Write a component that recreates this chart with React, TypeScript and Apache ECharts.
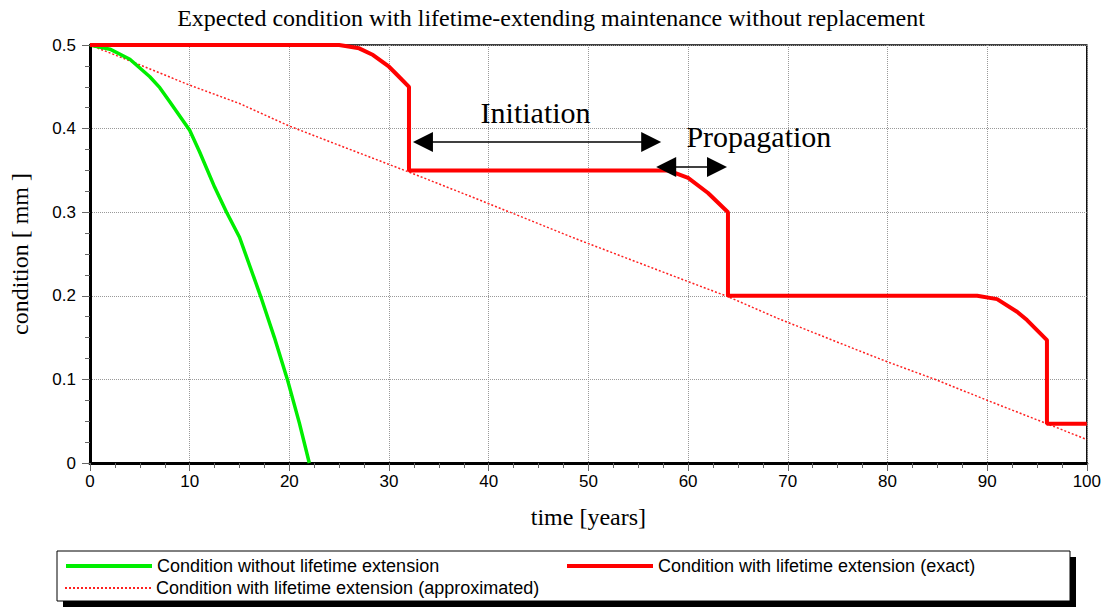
import React, { useEffect, useRef } from "react";
import * as echarts from "echarts";

const titleText = "Expected condition with lifetime-extending maintenance without replacement";
const xName = "time [years]";
const yName = "condition [ mm ]";
const seriesNames = [
  "Condition without lifetime extension",
  "Condition with lifetime extension (exact)",
  "Condition with lifetime extension (approximated)",
];

// Condition without lifetime extension
const greenPts: [number, number][] = [
  [0, 0.5], [2, 0.495], [4, 0.483], [6, 0.462], [7, 0.449], [8, 0.432],
  [10, 0.398], [11, 0.372], [12.5, 0.33], [13.7, 0.3], [15, 0.27],
  [17.1, 0.2], [18.5, 0.15], [19.8, 0.1], [21, 0.048], [22, 0],
];

// Condition with lifetime extension (exact)
const exactPts: [number, number][] = [
  [0, 0.5], [25, 0.5], [27, 0.496], [28.4, 0.488], [30, 0.474], [31, 0.462],
  [32, 0.45], [32, 0.35], [58, 0.35], [60, 0.341], [62, 0.323], [64, 0.3],
  [64, 0.2], [89, 0.2], [91, 0.196], [93, 0.181], [94, 0.171], [95, 0.159],
  [96, 0.147], [96, 0.047], [100, 0.047],
];

// Condition with lifetime extension (approximated)
const approxPts: [number, number][] = [
  [0, 0.5], [4, 0.481], [10, 0.452], [15, 0.43], [20, 0.403], [25, 0.38],
  [32, 0.348], [39, 0.315], [49, 0.267], [60, 0.217], [64, 0.199],
  [69, 0.173], [77, 0.135], [80, 0.121], [85, 0.099], [90, 0.075],
  [96, 0.047], [100, 0.028],
];

// Annotations (data coordinates)
const initiationArrow: [number, number][] = [[33.4, 0.384], [56.3, 0.384]];
const propagationArrow: [number, number][] = [[57.8, 0.354], [62.9, 0.354]];
const initiationLabel: [number, number] = [44.7, 0.419];
const propagationLabel: [number, number] = [67.1, 0.39];

const SERIF = "'Liberation Serif', 'Times New Roman', serif";
const SANS = "'Liberation Sans', Arial, sans-serif";

export default function App() {
  const ref = useRef<HTMLDivElement>(null);
  useEffect(() => {
    document.body.style.margin = "0";
    if (!ref.current) return;
    const chart = echarts.init(ref.current, undefined, { renderer: "svg" });
    const legendCommon = {
      orient: "horizontal" as const,
      padding: 0,
      itemWidth: 86,
      itemHeight: 14,
      itemStyle: { opacity: 0 },
      textStyle: { fontFamily: SANS, fontSize: 18, color: "#000" },
      selectedMode: false,
    };
    chart.setOption({
      animation: false,
      backgroundColor: "#fff",
      title: {
        text: titleText,
        left: 546,
        top: 1,
        textAlign: "center",
        textStyle: { fontFamily: SERIF, fontSize: 24, fontWeight: "normal", color: "#000" },
      },
      grid: {
        left: 88,
        right: 15,
        top: 45,
        bottom: 144,
        show: true,
        borderColor: "#000",
        borderWidth: 1.5,
        backgroundColor: "transparent",
      },
      xAxis: {
        type: "value",
        min: 0,
        max: 100,
        interval: 10,
        name: xName,
        nameLocation: "middle",
        nameGap: 42,
        nameTextStyle: { fontFamily: SERIF, fontSize: 24, color: "#000" },
        axisLine: { show: true, lineStyle: { color: "#000", width: 3 } },
        axisTick: { show: true, length: 8, lineStyle: { color: "#666", width: 1 } },
        minorTick: { show: true, splitNumber: 4, length: 5, lineStyle: { color: "#666", width: 1 } },
        axisLabel: { fontFamily: SANS, fontSize: 17, color: "#000", margin: 10 },
        splitLine: { show: true, lineStyle: { color: "#999", type: "dotted", width: 1 } },
      },
      yAxis: {
        type: "value",
        min: 0,
        max: 0.5,
        interval: 0.1,
        name: yName,
        nameLocation: "middle",
        nameGap: 58,
        nameTextStyle: { fontFamily: SERIF, fontSize: 24, color: "#000" },
        axisLine: { show: true, lineStyle: { color: "#000", width: 3 } },
        axisTick: { show: true, length: 8, lineStyle: { color: "#666", width: 1 } },
        minorTick: { show: true, splitNumber: 4, length: 5, lineStyle: { color: "#666", width: 1 } },
        axisLabel: { fontFamily: SANS, fontSize: 17, color: "#000", margin: 14 },
        splitLine: { show: true, lineStyle: { color: "#999", type: "dotted", width: 1 } },
      },
      graphic: [
        { type: "rect", shape: { x: 63, y: 557, width: 1013, height: 50 }, style: { fill: "#000" }, z: 0 },
        { type: "rect", shape: { x: 57, y: 551, width: 1013, height: 50 }, style: { fill: "#fff", stroke: "#000", lineWidth: 1 }, z: 1 },
      ],
      legend: [
        { ...legendCommon, data: [seriesNames[0]], left: 64, top: 557, z: 10, lineStyle: { width: 4 } },
        { ...legendCommon, data: [seriesNames[1]], left: 565, top: 557, z: 10, lineStyle: { width: 4 } },
        { ...legendCommon, data: [seriesNames[2]], left: 64, top: 579, z: 10 },
      ],
      series: [
        {
          name: seriesNames[2],
          type: "line",
          data: approxPts,
          showSymbol: false,
          symbol: "none",
          lineStyle: { color: "#ff2020", width: 1.5, type: [2, 2] },
          itemStyle: { color: "#ff2020" },
          z: 2,
        },
        {
          name: seriesNames[0],
          type: "line",
          data: greenPts,
          showSymbol: false,
          symbol: "none",
          lineStyle: { color: "#00ee00", width: 3.5 },
          itemStyle: { color: "#00ee00" },
          z: 3,
        },
        {
          name: seriesNames[1],
          type: "line",
          data: exactPts,
          showSymbol: false,
          symbol: "none",
          lineStyle: { color: "#ff0000", width: 4 },
          itemStyle: { color: "#ff0000" },
          z: 4,
          markLine: {
            silent: true,
            symbol: ["triangle", "triangle"],
            symbolSize: [20, 20],
            label: { show: false },
            lineStyle: { color: "#000", width: 1.5, type: "solid" },
            itemStyle: { color: "#000" },
            emphasis: { disabled: true },
            data: [
              [{ coord: initiationArrow[0] }, { coord: initiationArrow[1] }],
              [{ coord: propagationArrow[0] }, { coord: propagationArrow[1] }],
            ],
          },
          markPoint: {
            silent: true,
            symbol: "circle",
            symbolSize: 0,
            label: {
              show: true,
              position: "inside",
              fontFamily: SERIF,
              fontSize: 30,
              color: "#000",
              formatter: (p: any) => p.name,
            },
            data: [
              { name: "Initiation", coord: initiationLabel },
              { name: "Propagation", coord: propagationLabel },
            ],
          },
        },
      ],
    });
    return () => chart.dispose();
  }, []);
  return <div ref={ref} style={{ width: 1104, height: 607 }} />;
}
